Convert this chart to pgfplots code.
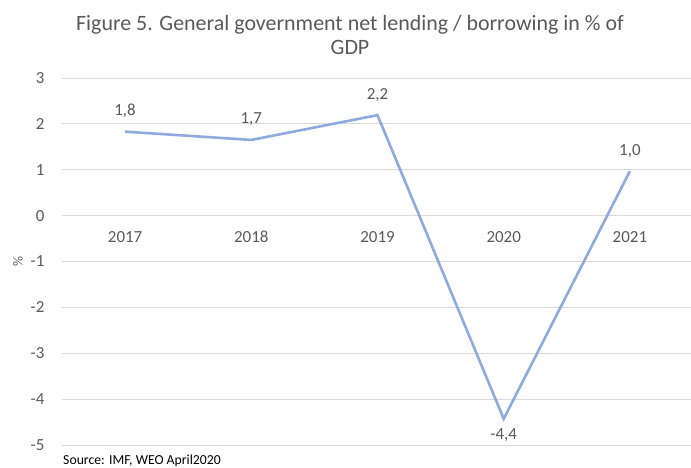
\documentclass[border=0pt]{standalone}
\usepackage{pgfplots}
\pgfplotsset{compat=1.18}
\usepackage{pgfplotstable}
\usepackage{fontspec}
\setmainfont{Carlito}
\definecolor{txt}{HTML}{595959}
\definecolor{gridc}{HTML}{D9D9D9}
\definecolor{linec}{HTML}{8FAADC}
\pgfplotstableread{
x y label
0 1.83 {1,8}
1 1.65 {1,7}
2 2.19 {2,2}
3 -4.43 {-4,4}
4 0.97 {1,0}
}\datatable
\begin{document}
\begin{tikzpicture}[x=1bp,y=1bp]
\path[use as bounding box] (0,0) rectangle (691,468);
\begin{axis}[
  at={(62bp,23bp)}, anchor=south west,
  scale only axis, width=631bp, height=367bp,
  xmin=-0.5, xmax=4.5, ymin=-5, ymax=3,
  ytick={-5,-4,...,3},
  xtick=\empty,
  axis line style={draw=none},
  major tick length=0pt,
  ymajorgrids, grid style={gridc, line width=0.9bp},
  clip=false,
  /pgf/number format/assume math mode=true,
  yticklabel style={font=\fontsize{17}{19}\selectfont, text=txt, xshift=-14bp},
]
\addplot[linec, line width=2.6bp, mark=none] table[x=x,y=y] {\datatable};
\addplot[draw=none, mark=none, nodes near coords, point meta=explicit symbolic,
  nodes near coords style={font=\fontsize{17}{19}\selectfont, text=txt, inner sep=0pt, anchor=base, yshift=16bp}]
  table[x=x,y=y,meta=label] {
x y label
0 1.83 {1,8}
1 1.65 {1,7}
2 2.19 {2,2}
4 0.97 {1,0}
};
\addplot[draw=none, mark=none, nodes near coords, point meta=explicit symbolic,
  nodes near coords style={font=\fontsize{17}{19}\selectfont, text=txt, inner sep=0pt, anchor=north, yshift=-10bp}]
  table[x=x,y=y,meta=label] {
x y label
3 -4.43 {-4,4}
};
\foreach \i/\lab in {0/2017,1/2018,2/2019,3/2020,4/2021}{
  \edef\tmp{\noexpand\node[font=\noexpand\fontsize{17}{19}\noexpand\selectfont, text=txt, anchor=base, inner sep=0pt] at (axis cs:\i,0) [yshift=-27bp] {\lab};}
  \tmp
}
\end{axis}
\node[font=\fontsize{22}{24}\selectfont, text=txt, anchor=base, inner sep=0pt] at (350,437) {Figure 5. General government net lending / borrowing in \% of};
\node[font=\fontsize{22}{24}\selectfont, text=txt, anchor=base, inner sep=0pt] at (350,413) {GDP};
\node[font=\fontsize{14}{16}\selectfont, text=txt, rotate=90, anchor=center, inner sep=0pt] at (18,206) {\%};
\node[font=\fontsize{13.8}{15}\selectfont, text=black, anchor=base west, inner sep=0pt] at (63,3) {Source: IMF, WEO April2020};
\end{tikzpicture}
\end{document}
